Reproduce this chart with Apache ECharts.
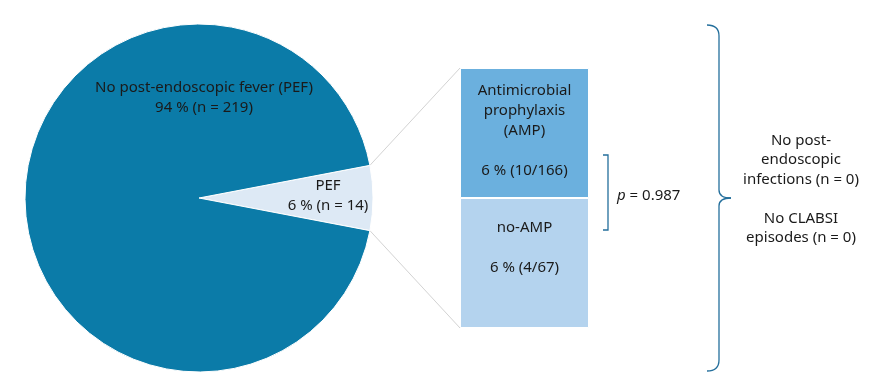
<!DOCTYPE html>
<html>
<head>
<meta charset="utf-8">
<script src="https://cdn.jsdelivr.net/npm/echarts@6/dist/echarts.min.js"></script>
<style>
html,body{margin:0;padding:0;background:#fff;}
#chart{width:892px;height:387px;}
</style>
</head>
<body>
<div id="chart"></div>
<script>
// ---- data ----
const pieNames = ['PEF', 'No post-endoscopic fever (PEF)'];
const pieCounts = [14, 219];
const pieLabels = ['PEF\n6 % (n = 14)', 'No post-endoscopic fever (PEF)\n94 % (n = 219)'];
const barGroups = ['no-AMP', 'Antimicrobial prophylaxis (AMP)'];
const barPercents = [6, 6];
const barLabels = ['no-AMP\n\n6 % (4/67)', 'Antimicrobial\nprophylaxis\n(AMP)\n\n6 % (10/166)'];
const pText = '= 0.987';
const sideText = 'No post-\nendoscopic\ninfections (n = 0)\n\nNo CLABSI\nepisodes (n = 0)';

const FONT = 'Noto Sans';
const FS = 15;
const TXT = '#1a1a1a';
const pieColors = ['#dde9f5', '#0b7ba8'];
const barColors = ['#b4d3ee', '#6bb0de'];
const lineBlue = '#246f9c';

const cx = 199, cy = 198, R = 174;
const total = pieCounts.reduce((a, b) => a + b, 0);
const halfAngle = 360 * pieCounts[0] / total / 2;

const chart = echarts.init(document.getElementById('chart'), null, {renderer: 'canvas'});

const option = {
  animation: false,
  backgroundColor: '#fff',
  textStyle: {fontFamily: FONT},
  grid: {left: 460, top: 68, width: 129, height: 260},
  xAxis: {type: 'category', data: ['PEF'], show: false},
  yAxis: {type: 'value', min: 0, max: barPercents.reduce((a, b) => a + b, 0), show: false},
  series: [
    {
      type: 'pie',
      center: [cx, cy],
      radius: R,
      startAngle: halfAngle,
      clockwise: true,
      silent: true,
      data: pieNames.map((n, i) => ({
        name: n, value: pieCounts[i],
        itemStyle: {color: pieColors[i], borderColor: '#fff', borderWidth: 1},
        label: {formatter: pieLabels[i]}
      })),
      label: {
        show: true, position: 'inside', color: TXT,
        fontFamily: FONT, fontSize: FS, lineHeight: 20, align: 'center'
      },
      labelLine: {show: false},
      labelLayout: function (params) {
        if (params.dataIndex === 0) return {x: cx + 129, y: cy - 2, align: 'center', verticalAlign: 'middle'};
        return {x: cx + 5, y: cy - 100, align: 'center', verticalAlign: 'middle'};
      }
    },
    ...barGroups.map((g, i) => ({
      type: 'bar',
      name: g,
      stack: 'amp',
      barWidth: '100%',
      silent: true,
      data: [barPercents[i]],
      itemStyle: {color: barColors[i], borderColor: '#fff', borderWidth: 1},
      label: {
        show: true, position: 'inside', formatter: barLabels[i],
        color: TXT, fontFamily: FONT, fontSize: FS, lineHeight: 20,
        offset: i === 0 ? [0, -15] : [0, -2]
      }
    }))
  ]
};
chart.setOption(option);

// connector lines from the PEF slice edge to the bar
const rad = halfAngle * Math.PI / 180;
const pTop = [cx + R * Math.cos(rad), cy - R * Math.sin(rad)];
const pBot = [cx + R * Math.cos(rad), cy + R * Math.sin(rad)];
const sum = barPercents.reduce((a, b) => a + b, 0);
const barTopLeft = chart.convertToPixel({gridIndex: 0}, ['PEF', sum]);
const barBotLeft = chart.convertToPixel({gridIndex: 0}, ['PEF', 0]);
const barLeftX = 460;

const bl = {stroke: lineBlue, lineWidth: 1.3, fill: null};
chart.setOption({
  graphic: [
    {type: 'line', z: 0, shape: {x1: pTop[0], y1: pTop[1], x2: barLeftX, y2: barTopLeft[1]},
     style: {stroke: '#d3d3d3', lineWidth: 1}},
    {type: 'line', z: 0, shape: {x1: pBot[0], y1: pBot[1], x2: barLeftX, y2: barBotLeft[1]},
     style: {stroke: '#d3d3d3', lineWidth: 1}},
    {type: 'polyline', shape: {points: [[603, 155], [608, 155], [608, 230], [603, 230]]}, style: bl},
    {type: 'text', x: 617, y: 196,
     style: {text: '{i|p} ' + pText, rich: {i: {fontStyle: 'italic', fontFamily: FONT, fontSize: FS, fill: TXT}},
       fontFamily: FONT, fontSize: FS, fill: TXT, verticalAlign: 'middle', align: 'left'}},
    {type: 'bezierCurve', shape: {x1: 707, y1: 25, cpx1: 719, cpy1: 25, x2: 719, y2: 36}, style: bl},
    {type: 'line', shape: {x1: 719, y1: 36, x2: 719, y2: 190}, style: bl},
    {type: 'bezierCurve', shape: {x1: 719, y1: 190, cpx1: 719, cpy1: 198, x2: 731, y2: 198}, style: bl},
    {type: 'bezierCurve', shape: {x1: 731, y1: 198, cpx1: 719, cpy1: 198, x2: 719, y2: 206}, style: bl},
    {type: 'line', shape: {x1: 719, y1: 206, x2: 719, y2: 360}, style: bl},
    {type: 'bezierCurve', shape: {x1: 719, y1: 360, cpx1: 719, cpy1: 371, x2: 707, y2: 371}, style: bl},
    {type: 'text', x: 801, y: 189,
     style: {text: sideText, fontFamily: FONT, fontSize: FS, lineHeight: 19.5, fill: TXT,
       align: 'center', verticalAlign: 'middle'}}
  ]
});
</script>
</body>
</html>
